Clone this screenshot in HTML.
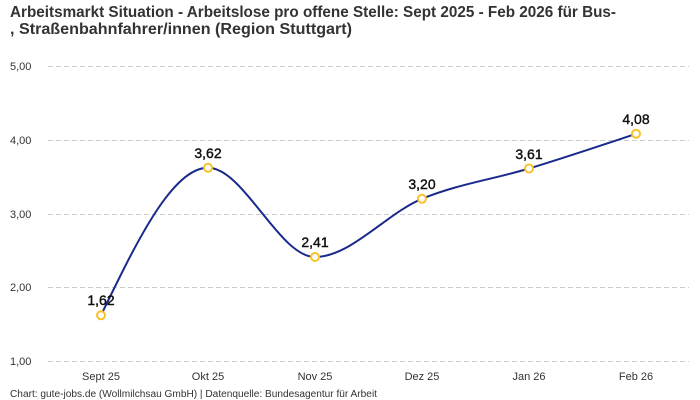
<!DOCTYPE html>
<html><head><meta charset="utf-8"><style>
html,body{margin:0;padding:0;background:#fff;}
svg{display:block;}
</style></head><body>
<svg width="700" height="400" viewBox="0 0 700 400" xmlns="http://www.w3.org/2000/svg" font-family="'Liberation Sans', sans-serif">
<text x="10" y="17" font-size="16" font-weight="bold" fill="#333" textLength="606" lengthAdjust="spacingAndGlyphs">Arbeitsmarkt Situation - Arbeitslose pro offene Stelle: Sept 2025 - Feb 2026 für Bus-</text>
<text x="10" y="34" font-size="16" font-weight="bold" fill="#333" textLength="342" lengthAdjust="spacingAndGlyphs">, Straßenbahnfahrer/innen (Region Stuttgart)</text>
<g stroke="#cccccc" stroke-width="1" stroke-dasharray="5,3">
<line x1="48" y1="66.5" x2="689" y2="66.5"/>
<line x1="48" y1="140.5" x2="689" y2="140.5"/>
<line x1="48" y1="214.5" x2="689" y2="214.5"/>
<line x1="48" y1="287.5" x2="689" y2="287.5"/>
<line x1="48" y1="361.5" x2="689" y2="361.5"/>
</g>
<g font-size="11" fill="#333">
<text x="10" y="70">5,00</text>
<text x="10" y="144">4,00</text>
<text x="10" y="218">3,00</text>
<text x="10" y="291">2,00</text>
<text x="10" y="365">1,00</text>
</g>
<g font-size="11" fill="#333" text-anchor="middle">
<text x="101" y="380">Sept 25</text>
<text x="208" y="380">Okt 25</text>
<text x="315" y="380">Nov 25</text>
<text x="422" y="380">Dez 25</text>
<text x="529" y="380">Jan 26</text>
<text x="636" y="380">Feb 26</text>
</g>
<path d="M101,315.3 C136.67,241.55 172.33,167.8 208,167.8 C243.67,167.8 279.33,257 315,257 C350.67,257 386.33,213.55 422,198.8 C457.67,184.05 493.33,179.34 529,168.5 C564.67,157.66 600.33,145.73 636,133.8" fill="none" stroke="#1a2a8c" stroke-width="2"/>
<g fill="#fff" stroke="#f8c22a" stroke-width="2">
<circle cx="101" cy="315.3" r="4"/>
<circle cx="208" cy="167.8" r="4"/>
<circle cx="315" cy="257" r="4"/>
<circle cx="422" cy="198.8" r="4"/>
<circle cx="529" cy="168.5" r="4"/>
<circle cx="636" cy="133.8" r="4"/>
</g>
<g font-size="14" fill="#111" stroke="#111" stroke-width="0.4" text-anchor="middle">
<text x="101" y="305">1,62</text>
<text x="208" y="158">3,62</text>
<text x="315" y="247">2,41</text>
<text x="422" y="189">3,20</text>
<text x="529" y="159">3,61</text>
<text x="636" y="124">4,08</text>
</g>
<text x="10" y="397" font-size="10" fill="#333" textLength="367" lengthAdjust="spacingAndGlyphs">Chart: gute-jobs.de (Wollmilchsau GmbH) | Datenquelle: Bundesagentur für Arbeit</text>
</svg>
</body></html>
